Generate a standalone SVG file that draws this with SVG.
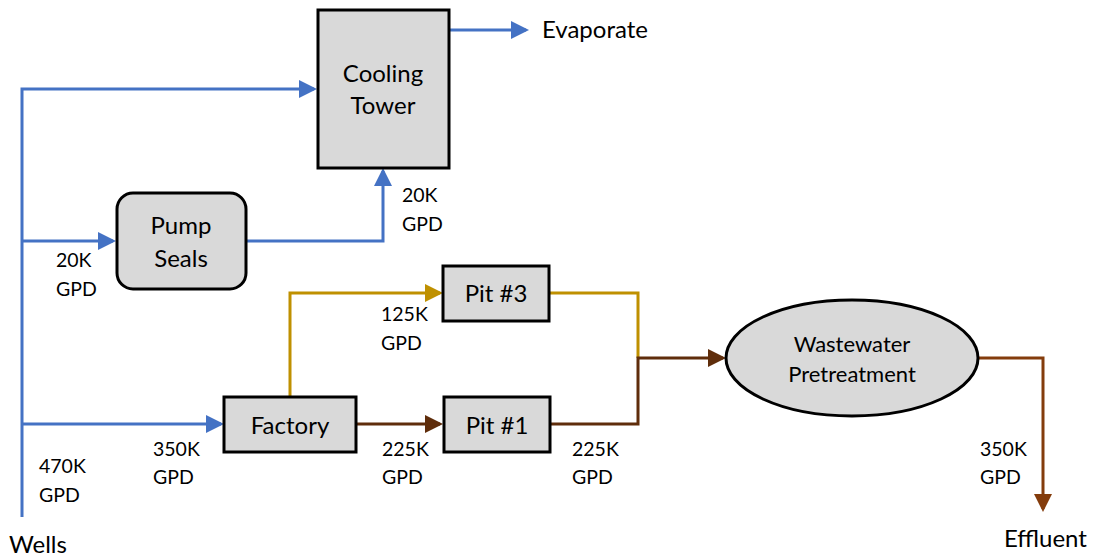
<svg xmlns="http://www.w3.org/2000/svg" width="1094" height="558" viewBox="0 0 1094 558">
<style>
text{font-family:Lato,"Open Sans","Liberation Sans",sans-serif;fill:#000}
.node{fill:#d9d9d9;stroke:#000;stroke-width:3}
.nt{font-size:24px;text-anchor:middle}
.ws{font-size:22px}
.st{font-size:24px}
.lb{font-size:19.5px}
.blue{stroke:#4472c4;stroke-width:3;fill:none}
.gold{stroke:#bf9000;stroke-width:3;fill:none}
.brown{stroke:#5f2d0b;stroke-width:3;fill:none}
.rust{stroke:#843c0c;stroke-width:3;fill:none}
</style>
<defs>
<marker id="ab" markerWidth="6" markerHeight="6" refX="5" refY="3" orient="auto" markerUnits="strokeWidth"><path d="M0,0L6,3L0,6z" fill="#4472c4"/></marker>
<marker id="ag" markerWidth="6" markerHeight="6" refX="5" refY="3" orient="auto" markerUnits="strokeWidth"><path d="M0,0L6,3L0,6z" fill="#bf9000"/></marker>
<marker id="abr" markerWidth="6" markerHeight="6" refX="5" refY="3" orient="auto" markerUnits="strokeWidth"><path d="M0,0L6,3L0,6z" fill="#5f2d0b"/></marker>
<marker id="ar" markerWidth="6" markerHeight="6" refX="5" refY="3" orient="auto" markerUnits="strokeWidth"><path d="M0,0L6,3L0,6z" fill="#843c0c"/></marker>
</defs>
<g id="connectors">
<path class="blue" d="M22,517V89H314" marker-end="url(#ab)"/>
<path class="blue" d="M22,241H113" marker-end="url(#ab)"/>
<path class="blue" d="M22,424H221" marker-end="url(#ab)"/>
<path class="blue" d="M246,241H383V171" marker-end="url(#ab)"/>
<path class="blue" d="M449,30H526" marker-end="url(#ab)"/>
<path class="gold" d="M290,397V293H440" marker-end="url(#ag)"/>
<path class="gold" d="M549,293H638V358"/>
<path class="brown" d="M356,424H440" marker-end="url(#abr)"/>
<path class="brown" d="M550,424H638V358H723" marker-end="url(#abr)"/>
<path class="rust" d="M978,358H1043V509" marker-end="url(#ar)"/>
</g>
<g id="cooling-tower"><rect class="node" x="318" y="10" width="131" height="158"/><text class="nt" x="383" y="82">Cooling</text><text class="nt" x="383" y="114">Tower</text></g>
<g id="pump-seals"><rect class="node" x="117" y="193" width="129" height="96" rx="16"/><text class="nt" x="181" y="234">Pump</text><text class="nt" x="181" y="267">Seals</text></g>
<g id="factory"><rect class="node" x="224" y="397" width="132" height="55"/><text class="nt" x="290" y="434">Factory</text></g>
<g id="pit3"><rect class="node" x="443" y="266" width="106" height="55"/><text class="nt" x="496" y="302">Pit #3</text></g>
<g id="pit1"><rect class="node" x="444" y="397" width="106" height="55"/><text class="nt" x="497" y="434">Pit #1</text></g>
<g id="wastewater"><ellipse class="node" cx="852" cy="358" rx="126" ry="58"/><text class="nt ws" x="852" y="352">Wastewater</text><text class="nt ws" x="852" y="382">Pretreatment</text></g>
<g id="labels">
<text class="st" x="542" y="38">Evaporate</text>
<text class="st" x="9" y="553">Wells</text>
<text class="st" x="1004" y="547">Effluent</text>
<text class="lb" x="402" y="202">20K</text><text class="lb" x="402" y="231">GPD</text>
<text class="lb" x="56" y="267">20K</text><text class="lb" x="56" y="296">GPD</text>
<text class="lb" x="381" y="321">125K</text><text class="lb" x="381" y="350">GPD</text>
<text class="lb" x="153" y="456">350K</text><text class="lb" x="153" y="484">GPD</text>
<text class="lb" x="39" y="473">470K</text><text class="lb" x="39" y="502">GPD</text>
<text class="lb" x="382" y="456">225K</text><text class="lb" x="382" y="484">GPD</text>
<text class="lb" x="572" y="456">225K</text><text class="lb" x="572" y="484">GPD</text>
<text class="lb" x="980" y="456">350K</text><text class="lb" x="980" y="484">GPD</text>
</g>
</svg>
